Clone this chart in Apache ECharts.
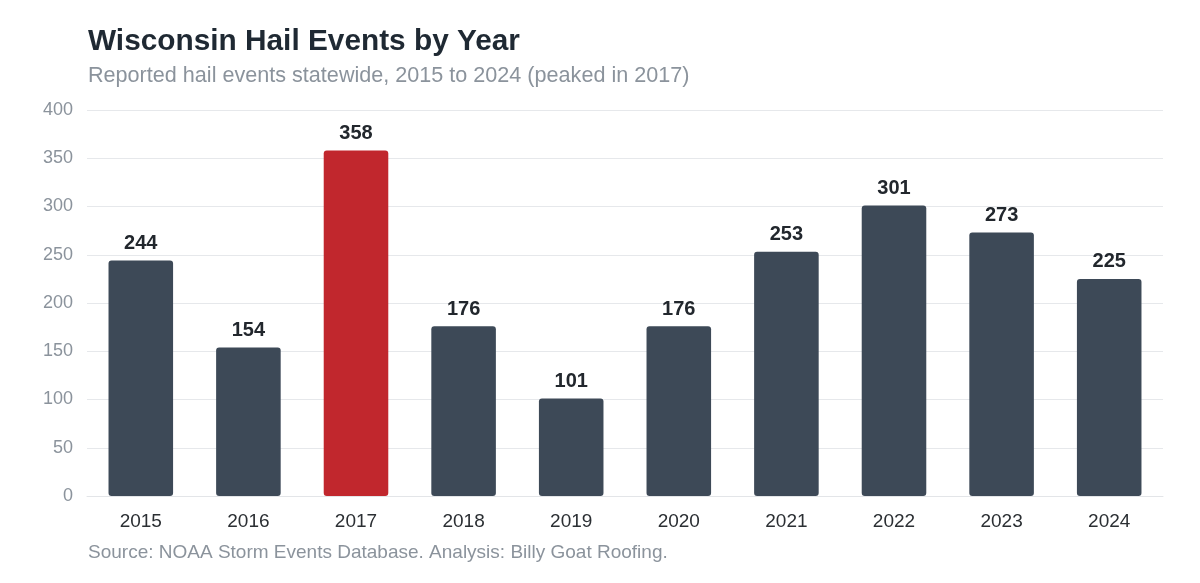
<!DOCTYPE html>
<html><head><meta charset="utf-8">
<script src="https://cdn.jsdelivr.net/npm/echarts@6/dist/echarts.min.js"></script>
<style>html,body{margin:0;padding:0;background:#fff}#c{width:1200px;height:583px}</style>
</head><body><div id="c"></div>
<script>
const years = ['2015','2016','2017','2018','2019','2020','2021','2022','2023','2024'];
const events = [244,154,358,176,101,176,253,301,273,225];
const peakYear = '2017';
const yTicks = [0,50,100,150,200,250,300,350,400];

const chart = echarts.init(document.getElementById('c'));
const F = '"Liberation Sans", Arial, Helvetica, sans-serif';
chart.setOption({
  backgroundColor:'#fff',
  animation:false,
  title:[
    {text:'Wisconsin Hail Events by Year', left:83, top:22, textStyle:{fontFamily:F,fontSize:29.8,fontWeight:'bold',color:'#1f2933'}},
    {text:'Reported hail events statewide, 2015 to 2024 (peaked in 2017)', left:83, top:60, textStyle:{fontFamily:F,fontSize:21.6,fontWeight:'normal',color:'#8b939c'}},
    {text:'Source: NOAA Storm Events Database. Analysis: Billy Goat Roofing.', left:83, top:538, textStyle:{fontFamily:F,fontSize:19,fontWeight:'normal',color:'#8b939c'}}
  ],
  grid:{left:87, right:37, top:110, bottom:87, containLabel:false},
  xAxis:{type:'category', data:years,
    axisLine:{show:true,lineStyle:{color:'#e3e5e8'}}, axisTick:{show:false},
    axisLabel:{fontFamily:F,fontSize:19,color:'#2b2f33',margin:16}},
  yAxis:{type:'value', min:yTicks[0], max:yTicks[yTicks.length-1], interval:50,
    axisLine:{show:false}, axisTick:{show:false},
    splitLine:{lineStyle:{color:'#e6e8eb',width:1}},
    axisLabel:{fontFamily:F,fontSize:18,color:'#8b939c',margin:14}},
  series:[{type:'bar', barWidth:'60%',
    data:events.map((v,i)=>({value:v,itemStyle:{color:years[i]===peakYear?'#c1272d':'#3d4957'}})),
    itemStyle:{borderRadius:3},
    label:{show:true,position:'top',distance:7,fontFamily:F,fontSize:20,fontWeight:'bold',color:'#22272d'}
  }]
});
</script></body></html>
